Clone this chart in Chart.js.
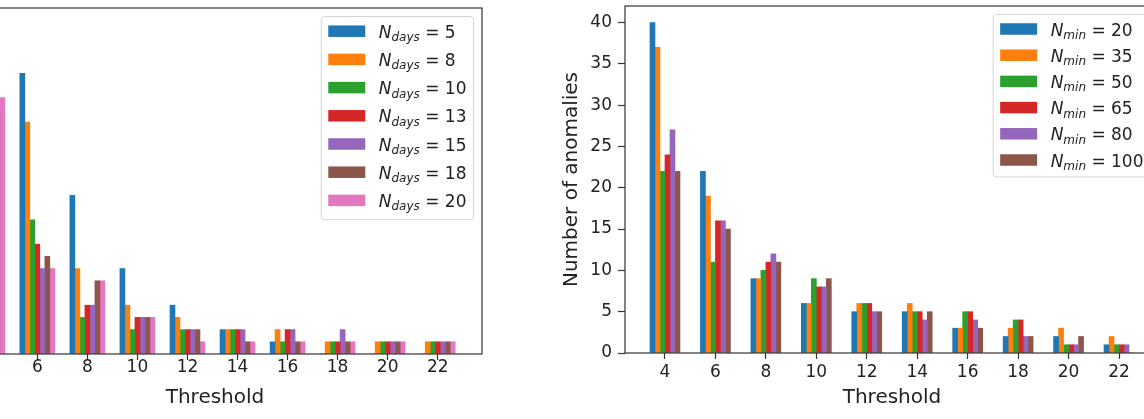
<!DOCTYPE html>
<html>
<head>
<meta charset="utf-8">
<script src="https://cdn.jsdelivr.net/npm/chart.js@4/dist/chart.umd.min.js"></script>
<style>
  html, body { margin: 0; padding: 0; background: #fff; }
  body { width: 1144px; height: 419px; overflow: hidden; position: relative; }
  .box { position: absolute; top: 0; width: 640px; height: 419px; }
</style>
</head>
<body>
<div class="box" style="left:-137px"><canvas id="daysChart"></canvas></div>
<div class="box" style="left:540px"><canvas id="minChart"></canvas></div>
<script>
// Thresholds on the x axis (both panels)
const thresholds = [4, 6, 8, 10, 12, 14, 16, 18, 20, 22];

// Left panel: anomalies per threshold for each N_days
const nDays = [5, 8, 10, 13, 15, 18, 20];
const days5  = [27, 23, 13, 7, 4, 2, 1, 0, 0, 0];
const days8  = [25, 19, 7, 4, 3, 2, 2, 1, 1, 1];
const days10 = [22, 11, 3, 2, 2, 2, 1, 1, 1, 1];
const days13 = [21, 9, 4, 3, 2, 2, 2, 1, 1, 1];
const days15 = [20, 7, 4, 3, 2, 2, 2, 2, 1, 1];
const days18 = [20, 8, 6, 3, 2, 1, 1, 1, 1, 1];
const days20 = [21, 7, 6, 3, 1, 1, 1, 1, 1, 1];

// Right panel: anomalies per threshold for each N_min
const nMin = [20, 35, 50, 65, 80, 100];
const min20  = [40, 22, 9, 6, 5, 5, 3, 2, 2, 1];
const min35  = [37, 19, 9, 6, 6, 6, 3, 3, 3, 2];
const min50  = [22, 11, 10, 9, 6, 5, 5, 4, 1, 1];
const min65  = [24, 16, 11, 8, 6, 5, 5, 4, 1, 1];
const min80  = [27, 16, 12, 8, 5, 4, 4, 2, 1, 1];
const min100 = [22, 15, 11, 9, 5, 5, 3, 2, 2, 0];

const yTicksDays = [0, 5, 10, 15, 20, 25];
const yTicksMin = [0, 5, 10, 15, 20, 25, 30, 35, 40];

const colors = ['#1f77b4', '#ff7f0e', '#2ca02c', '#d62728', '#9467bd', '#8c564b', '#e377c2'];

Chart.defaults.font.family = '"DejaVu Sans", sans-serif';
Chart.defaults.color = '#222';

// matplotlib-like box around the plot area
const frame = {
    id: 'frame',
    afterDatasetsDraw(chart) {
        const a = chart.chartArea, ctx = chart.ctx;
        ctx.save();
        ctx.strokeStyle = '#333';
        ctx.lineWidth = 1.2;
        ctx.strokeRect(a.left, a.top, a.right - a.left, a.bottom - a.top);
        ctx.restore();
    }
};

// legend with subscripted labels, e.g. N_days = 5
const subLegend = {
    id: 'subLegend',
    afterDraw(chart, args, opts) {
        const {ctx, chartArea} = chart;
        const sets = chart.data.datasets;
        const big = '17px "DejaVu Sans"';
        const bigIt = 'italic 17px "DejaVu Sans"';
        const small = 'italic 12px "DejaVu Sans"';
        ctx.save();
        const parts = sets.map(ds => {
            const m = ds.label.match(/^(\w+)_(\w+) = (.+)$/);
            return { sym: m[1], sub: m[2], rest: ' = ' + m[3] };
        });
        let maxW = 0;
        parts.forEach(p => {
            ctx.font = bigIt; let w = ctx.measureText(p.sym).width;
            ctx.font = small; w += ctx.measureText(p.sub).width;
            ctx.font = big; w += ctx.measureText(p.rest).width;
            maxW = Math.max(maxW, w);
        });
        const patchW = 37, patchH = 11.5, gap = 13.5, padX = 7;
        const boxW = padX + patchW + gap + maxW + padX;
        const boxH = opts.padTop + (sets.length - 1) * opts.rowH + opts.padBottom;
        const right = chartArea.right - 8.5, top = chartArea.top + 8.5;
        const left = right - boxW;
        ctx.beginPath();
        ctx.roundRect(left, top, boxW, boxH, 3.5);
        ctx.fillStyle = 'rgba(255,255,255,0.8)';
        ctx.fill();
        ctx.strokeStyle = '#d4d4d4';
        ctx.lineWidth = 1;
        ctx.stroke();
        parts.forEach((p, i) => {
            const cy = top + opts.padTop + i * opts.rowH;
            ctx.fillStyle = sets[i].backgroundColor;
            ctx.fillRect(left + padX, cy - patchH / 2, patchW, patchH);
            let x = left + padX + patchW + gap;
            const base = cy + 6.5;
            ctx.fillStyle = '#222';
            ctx.textAlign = 'left';
            ctx.textBaseline = 'alphabetic';
            ctx.font = bigIt; ctx.fillText(p.sym, x, base); x += ctx.measureText(p.sym).width;
            ctx.font = small; ctx.fillText(p.sub, x, base + 3.5); x += ctx.measureText(p.sub).width;
            ctx.font = big; ctx.fillText(p.rest, x, base);
        });
        ctx.restore();
    }
};

function makeSets(series, values, name) {
    return series.map((vals, i) => ({
        label: name + ' = ' + values[i],
        data: thresholds.map((t, j) => ({ x: t, y: vals[j] })),
        backgroundColor: colors[i],
        borderWidth: 0,
        barThickness: 5
    }));
}

function makeChart(id, datasets, opt) {
    return new Chart(document.getElementById(id), {
        type: 'bar',
        data: { datasets: datasets },
        options: {
            responsive: true,
            maintainAspectRatio: false,
            animation: false,
            layout: { padding: { top: opt.top, right: 21, bottom: 0, left: 0 } },
            plugins: {
                legend: { display: false },
                tooltip: { enabled: false },
                subLegend: opt.legend
            },
            scales: {
                x: {
                    type: 'linear',
                    min: opt.xMin,
                    max: opt.xMax,
                    offset: false,
                    grid: { offset: false, drawOnChartArea: false, drawTicks: true, tickLength: 6, tickColor: '#333', tickWidth: 1.2 },
                    border: { display: false },
                    ticks: { font: { size: 17 }, padding: opt.xPad, maxRotation: 0 },
                    title: { display: true, text: 'Threshold', font: { size: 20 }, padding: { top: 0, bottom: 9 } },
                    afterBuildTicks: s => { s.ticks = thresholds.map(v => ({ value: v })); },
                    afterFit: s => { s.height = opt.xH; s.paddingLeft = 0; s.paddingRight = 0; }
                },
                y: {
                    min: 0,
                    max: opt.yMax,
                    grid: { drawOnChartArea: false, drawTicks: true, tickLength: 7, tickColor: '#333', tickWidth: 1.2 },
                    border: { display: false },
                    ticks: { font: { size: 17 }, padding: 6 },
                    title: { display: true, text: 'Number of anomalies', font: { size: 20 }, padding: { top: 20, bottom: 0 } },
                    afterBuildTicks: s => { s.ticks = opt.yTicks.map(v => ({ value: v })); },
                    afterFit: s => { s.width = 85; s.paddingTop = 0; s.paddingBottom = 0; }
                }
            }
        },
        plugins: [frame, subLegend]
    });
}

makeChart('daysChart',
    makeSets([days5, days8, days10, days13, days15, days18, days20], nDays, 'N_days'),
    { top: 8, xH: 65, xPad: -3, xMin: 2.43, xMax: 23.77, yMax: 28.35, yTicks: yTicksDays,
      legend: { padTop: 14.7, rowH: 28.2, padBottom: 19.2 } });

makeChart('minChart',
    makeSets([min20, min35, min50, min65, min80, min100], nMin, 'N_min'),
    { top: 6, xH: 66, xPad: 3, xMin: 2.415, xMax: 23.585, yMax: 42, yTicks: yTicksMin,
      legend: { padTop: 14.5, rowH: 26.2, padBottom: 17 } });
</script>
</body>
</html>
